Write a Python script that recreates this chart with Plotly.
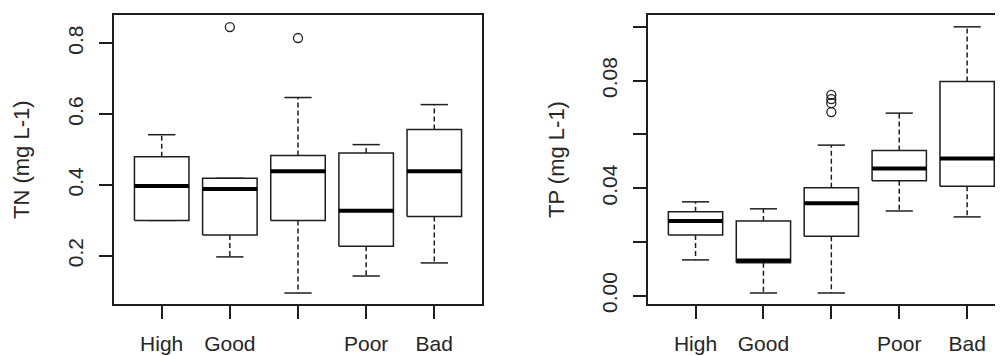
import plotly.graph_objects as go

# ---- data ----
tick_labels = ["High", "Good", "", "Poor", "Bad"]
positions = [1, 2, 3, 4, 5]

tn_low  = [0.300, 0.197, 0.095, 0.143, 0.180]
tn_q1   = [0.300, 0.259, 0.300, 0.227, 0.311]
tn_med  = [0.397, 0.389, 0.439, 0.327, 0.439]
tn_q3   = [0.480, 0.419, 0.483, 0.490, 0.557]
tn_high = [0.542, 0.419, 0.647, 0.514, 0.627]
tn_out_pos = [2, 3]
tn_out_val = [0.846, 0.815]

tp_low  = [0.0133, 0.0010, 0.0010, 0.0315, 0.0293]
tp_q1   = [0.0226, 0.0122, 0.0221, 0.0427, 0.0407]
tp_med  = [0.0278, 0.0131, 0.0344, 0.0473, 0.0510]
tp_q3   = [0.0312, 0.0278, 0.0401, 0.0540, 0.0797]
tp_high = [0.0349, 0.0323, 0.0560, 0.0679, 0.1000]
tp_out_pos = [3, 3, 3, 3]
tp_out_val = [0.0747, 0.0731, 0.0716, 0.0683]

LINE = "#1e1e1e"
TEXT = "#262626"
FONT = "Liberation Sans, Arial, sans-serif"
HW = 0.4    # half box width (boxwex 0.8)
CW = 0.2    # half staple width

fig = go.Figure()


def add_panel(low, q1, med, q3, high, out_pos, out_val, xa, ya):
    bx, by, mx, my, wx, wy, cx, cy = [], [], [], [], [], [], [], []
    for p, lo, a, m, b, hi in zip(positions, low, q1, med, q3, high):
        bx += [p - HW, p + HW, p + HW, p - HW, p - HW, None]
        by += [a, a, b, b, a, None]
        mx += [p - HW, p + HW, None]
        my += [m, m, None]
        if hi > b:
            wx += [p, p, None]
            wy += [b, hi, None]
        if lo < a:
            wx += [p, p, None]
            wy += [a, lo, None]
        cx += [p - CW, p + CW, None, p - CW, p + CW, None]
        cy += [hi, hi, None, lo, lo, None]
    common = dict(xaxis=xa, yaxis=ya, showlegend=False, hoverinfo="skip")
    fig.add_trace(go.Scatter(x=wx, y=wy, mode="lines",
                             line=dict(color=LINE, width=1.5, dash="5px,3px"), **common))
    fig.add_trace(go.Scatter(x=cx, y=cy, mode="lines",
                             line=dict(color=LINE, width=1.5), **common))
    fig.add_trace(go.Scatter(x=bx, y=by, mode="lines", fill="toself", fillcolor="white",
                             line=dict(color=LINE, width=1.5), **common))
    fig.add_trace(go.Scatter(x=mx, y=my, mode="lines",
                             line=dict(color="black", width=4), **common))
    fig.add_trace(go.Scatter(x=out_pos, y=out_val, mode="markers",
                             marker=dict(symbol="circle-open", size=9, color=LINE,
                                         line=dict(color=LINE, width=1.3)), **common))


add_panel(tn_low, tn_q1, tn_med, tn_q3, tn_high, tn_out_pos, tn_out_val, "x", "y")
add_panel(tp_low, tp_q1, tp_med, tp_q3, tp_high, tp_out_pos, tp_out_val, "x2", "y2")

# page body adds an 8px offset; the figure fills the rest of the 1003x356 window
OFF = 8
W, H = 1003 - OFF, 356 - OFF


def px_x(v):
    return (v - OFF) / W


def px_y(v):
    return 1 - (v - OFF) / H


ydom = [px_y(304), px_y(15)]

xcommon = dict(tickmode="array", tickvals=positions, ticktext=tick_labels,
               ticks="outside", ticklen=13, tickwidth=1.5, tickcolor=LINE,
               showline=True, linecolor=LINE, linewidth=1.5, showgrid=False,
               zeroline=False, automargin=False, ticklabelstandoff=7,
               tickfont=dict(family=FONT, size=21, color=TEXT))
ycommon = dict(ticks="outside", ticklen=13, tickwidth=1.5, tickcolor=LINE,
               showline=True, linecolor=LINE, linewidth=1.5, showgrid=False,
               zeroline=False, automargin=False, tickangle=-90, ticklabelstandoff=8,
               tickfont=dict(family=FONT, size=21, color=TEXT), domain=ydom)

fig.update_layout(
    width=W, height=H,
    margin=dict(l=0, r=0, t=0, b=0),
    paper_bgcolor="white", plot_bgcolor="white",
    xaxis=dict(domain=[px_x(114), px_x(482)], range=[0.3, 5.7], mirror=True, **xcommon),
    yaxis=dict(range=[0.064, 0.880], mirror=True, tickmode="array",
               tickvals=[0.2, 0.4, 0.6, 0.8], ticktext=["0.2", "0.4", "0.6", "0.8"],
               **ycommon),
    xaxis2=dict(domain=[px_x(648), 1.0], range=[0.3, 0.3 + (1003 - 648) / 67.9],
                mirror=True, anchor="y2", **xcommon),
    yaxis2=dict(range=[-0.0031, 0.1044], anchor="x2", tickmode="array",
                tickvals=[0.0, 0.02, 0.04, 0.06, 0.08, 0.10],
                ticktext=["0.00", "", "0.04", "", "0.08", ""], **ycommon),
    annotations=[
        dict(text="TN (mg L-1)", x=px_x(21), y=px_y(160), xref="paper", yref="paper",
             xanchor="center", yanchor="middle", textangle=-90, showarrow=False,
             font=dict(family=FONT, size=22, color=TEXT)),
        dict(text="TP (mg L-1)", x=px_x(556), y=px_y(160), xref="paper", yref="paper",
             xanchor="center", yanchor="middle", textangle=-90, showarrow=False,
             font=dict(family=FONT, size=22, color=TEXT)),
    ],
)

fig.write_html("out.html")
